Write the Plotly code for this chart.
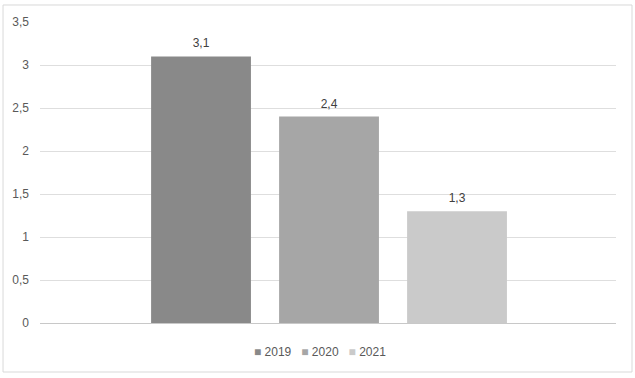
import plotly.graph_objects as go

series = ["2019", "2020", "2021"]
values = [3.1, 2.4, 1.3]
colors = ["#898989", "#a6a6a6", "#cacaca"]
y_ticks = [0, 0.5, 1, 1.5, 2, 2.5, 3, 3.5]
y_tick_labels = ["0", "0,5", "1", "1,5", "2", "2,5", "3", "3,5"]

def fmt(v):
    return f"{v:.1f}".replace(".", ",")

fig = go.Figure()
for name, v, c in zip(series, values, colors):
    fig.add_trace(go.Bar(
        x=[name], y=[v], name=name, marker=dict(color=c, line=dict(width=0)),
        showlegend=False,
    ))

# data labels above bars
fig.add_trace(go.Scatter(
    x=series, y=values, mode="markers+text",
    text=[fmt(v) for v in values], textposition="top center",
    marker=dict(size=8, opacity=0), textfont=dict(color="#404040", size=12),
    showlegend=False, hoverinfo="skip", cliponaxis=False,
))

legend_text = "   ".join(
    f"<span style='color:{c}'>■</span> {s}" for s, c in zip(series, colors)
)

fig.update_layout(
    width=635, height=378,
    margin=dict(l=40, r=19, t=22, b=55),
    paper_bgcolor="white", plot_bgcolor="white",
    barmode="overlay", bargap=0.22,
    font=dict(family="Liberation Sans, Arial, sans-serif", size=11, color="#595959"),
    showlegend=False,
    xaxis=dict(type="category", range=[-1.258, 3.242], showticklabels=False,
               showgrid=False, zeroline=False, showline=False),
    yaxis=dict(range=[0, 3.5], tickvals=y_ticks, ticktext=y_tick_labels,
               showgrid=True, gridcolor="#dedede", gridwidth=1,
               zeroline=True, zerolinecolor="#c8c8c8", zerolinewidth=1,
               showline=False, ticks="", ticklabelstandoff=10,
               tickfont=dict(size=12, color="#595959")),
    annotations=[dict(xref="paper", yref="paper", x=0.486, y=-0.0963,
                      xanchor="center", yanchor="middle", showarrow=False,
                      text=legend_text, font=dict(size=12, color="#595959"))],
    shapes=[dict(type="rect", xref="paper", yref="paper",
                 x0=-0.0642, x1=1.0278, y0=-0.1628, y1=1.0565,
                 line=dict(color="#d9d9d9", width=1), fillcolor="rgba(0,0,0,0)")],
)

fig.write_html("out.html", config={"displayModeBar": False},
               post_script="document.body.style.margin='0';")
